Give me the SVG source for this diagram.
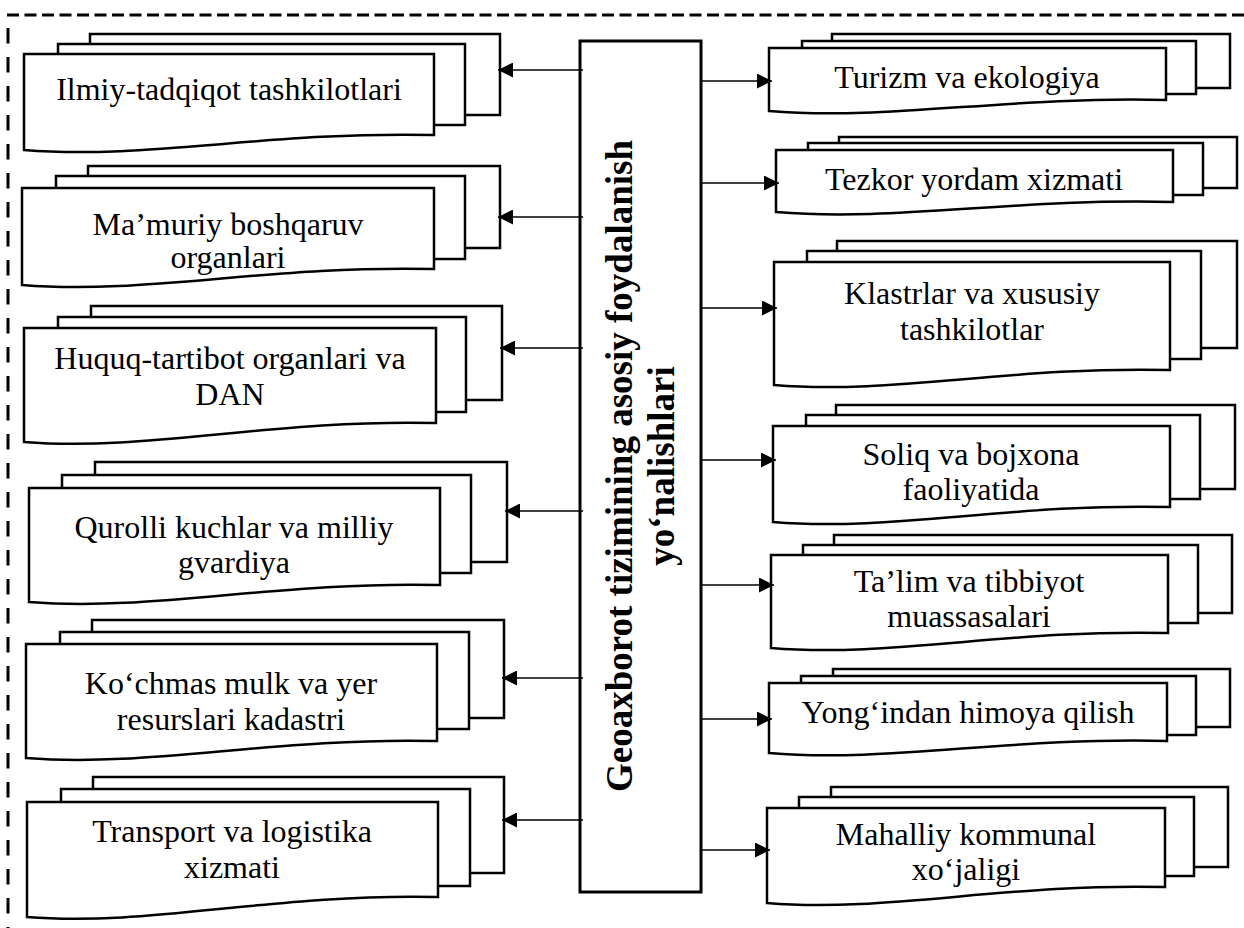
<svg xmlns="http://www.w3.org/2000/svg" width="1244" height="928" viewBox="0 0 1244 928">
<style>
.sh{fill:#fff;stroke:#000;stroke-width:2.5;stroke-linejoin:miter}
.t{font-family:"Liberation Serif","Times New Roman",serif;font-size:32px;text-anchor:middle;fill:#000}
.tb{font-family:"Liberation Serif","Times New Roman",serif;font-size:37px;font-weight:bold;text-anchor:middle;fill:#000}
.c{stroke:#000;stroke-width:1.5;fill:none}
.box{fill:#fff;stroke:#000;stroke-width:3}
</style>
<defs>
<marker id="ah" markerUnits="userSpaceOnUse" markerWidth="15" markerHeight="15" refX="15" refY="7.5" orient="auto" viewBox="0 0 15 15">
<path d="M0,0 L15,7.5 L0,15 Z" fill="#000"/>
</marker>
</defs>
<rect width="1244" height="928" fill="#fff"/>
<g id="border">
<line x1="7" y1="15" x2="1244" y2="15" stroke="#000" stroke-width="3" stroke-dasharray="12 5.5"/>
<line x1="8" y1="28" x2="8" y2="928" stroke="#000" stroke-width="3" stroke-dasharray="15.5 13.5"/>
</g>

<g id="center">
<rect class="box" x="580" y="41" width="121" height="851"/>
<g transform="translate(632,466) rotate(-90)">
<text class="tb" x="0" y="0">Geoaxborot tizimining asosiy foydalanish</text>
<text class="tb" x="0" y="42">yo‘nalishlari</text>
</g>
</g>

<g id="n-ilmiy">
<rect class="sh" x="90" y="34" width="410" height="81"/>
<rect class="sh" x="58" y="44" width="407" height="81"/>
<path class="sh" d="M24,150 L24,54 L434,54 L434,135 C270,131 147,160 24,150 Z"/>
<text class="t" x="229" y="100">Ilmiy-tadqiqot tashkilotlari</text>
</g>
<g id="n-mamuriy">
<rect class="sh" x="88" y="166" width="412" height="82"/>
<rect class="sh" x="56" y="176" width="409" height="83"/>
<path class="sh" d="M22,285 L22,188 L434,188 L434,269 C269,265 146,295 22,285 Z"/>
<text class="t" x="228" y="235">Ma’muriy boshqaruv</text>
<text class="t" x="228" y="268">organlari</text>
</g>
<g id="n-huquq">
<rect class="sh" x="91" y="306" width="411" height="94"/>
<rect class="sh" x="58" y="317" width="408" height="95"/>
<path class="sh" d="M24,442 L24,328 L436,328 L436,423 C271,419 148,452 24,442 Z"/>
<text class="t" x="230" y="369">Huquq-tartibot organlari va</text>
<text class="t" x="230" y="405">DAN</text>
</g>
<g id="n-qurolli">
<rect class="sh" x="95" y="462" width="412" height="100"/>
<rect class="sh" x="62" y="475" width="409" height="98"/>
<path class="sh" d="M29,602 L29,488 L440,488 L440,585 C276,581 152,612 29,602 Z"/>
<text class="t" x="234" y="538">Qurolli kuchlar va milliy</text>
<text class="t" x="234" y="573">gvardiya</text>
</g>
<g id="n-kochmas">
<rect class="sh" x="92" y="620" width="412" height="98"/>
<rect class="sh" x="60" y="632" width="409" height="97"/>
<path class="sh" d="M26,758 L26,644 L437,644 L437,741 C273,737 149,768 26,758 Z"/>
<text class="t" x="231" y="694">Ko‘chmas mulk va yer</text>
<text class="t" x="231" y="730">resurslari kadastri</text>
</g>
<g id="n-transport">
<rect class="sh" x="93" y="777" width="411" height="96"/>
<rect class="sh" x="61" y="789" width="409" height="97"/>
<path class="sh" d="M27,917 L27,802 L438,802 L438,897 C274,893 150,927 27,917 Z"/>
<text class="t" x="232" y="842">Transport va logistika</text>
<text class="t" x="232" y="878">xizmati</text>
</g>

<g id="n-turizm">
<rect class="sh" x="832" y="34" width="398" height="54"/>
<rect class="sh" x="802" y="41" width="394" height="53"/>
<path class="sh" d="M769,111 L769,48 L1166,48 L1166,100 C1007,96 888,121 769,111 Z"/>
<text class="t" x="967" y="88">Turizm va ekologiya</text>
</g>
<g id="n-tezkor">
<rect class="sh" x="839" y="137" width="398" height="51"/>
<rect class="sh" x="808" y="143" width="395" height="52"/>
<path class="sh" d="M776,212 L776,150 L1173,150 L1173,202 C1014,198 895,222 776,212 Z"/>
<text class="t" x="974" y="190">Tezkor yordam xizmati</text>
</g>
<g id="n-klastrlar">
<rect class="sh" x="837" y="241" width="400" height="107"/>
<rect class="sh" x="807" y="251" width="394" height="108"/>
<path class="sh" d="M774,385 L774,262 L1170,262 L1170,370 C1011,366 893,395 774,385 Z"/>
<text class="t" x="972" y="304">Klastrlar va xususiy</text>
<text class="t" x="972" y="340">tashkilotlar</text>
</g>
<g id="n-soliq">
<rect class="sh" x="836" y="405" width="399" height="84"/>
<rect class="sh" x="806" y="415" width="394" height="84"/>
<path class="sh" d="M773,522 L773,426 L1170,426 L1170,507 C1011,503 892,532 773,522 Z"/>
<text class="t" x="971" y="465">Soliq va bojxona</text>
<text class="t" x="971" y="500">faoliyatida</text>
</g>
<g id="n-talim">
<rect class="sh" x="834" y="535" width="398" height="78"/>
<rect class="sh" x="803" y="545" width="395" height="78"/>
<path class="sh" d="M771,648 L771,555 L1168,555 L1168,633 C1009,629 890,658 771,648 Z"/>
<text class="t" x="969" y="592">Ta’lim va tibbiyot</text>
<text class="t" x="969" y="627">muassasalari</text>
</g>
<g id="n-yongin">
<rect class="sh" x="833" y="669" width="397" height="58"/>
<rect class="sh" x="801" y="676" width="395" height="59"/>
<path class="sh" d="M769,753 L769,683 L1167,683 L1167,741 C1008,737 888,763 769,753 Z"/>
<text class="t" x="968" y="723">Yong‘indan himoya qilish</text>
</g>
<g id="n-mahalliy">
<rect class="sh" x="831" y="787" width="397" height="80"/>
<rect class="sh" x="799" y="797" width="395" height="79"/>
<path class="sh" d="M767,903 L767,808 L1165,808 L1165,887 C1006,883 886,913 767,903 Z"/>
<text class="t" x="966" y="845">Mahalliy kommunal</text>
<text class="t" x="966" y="880">xo‘jaligi</text>
</g>

<g id="connectors">
<line class="c" x1="583" y1="70" x2="498" y2="70" marker-end="url(#ah)"/>
<line class="c" x1="583" y1="217" x2="498" y2="217" marker-end="url(#ah)"/>
<line class="c" x1="583" y1="348" x2="500" y2="348" marker-end="url(#ah)"/>
<line class="c" x1="583" y1="511" x2="505" y2="511" marker-end="url(#ah)"/>
<line class="c" x1="583" y1="678" x2="502" y2="678" marker-end="url(#ah)"/>
<line class="c" x1="583" y1="820" x2="502" y2="820" marker-end="url(#ah)"/>
<line class="c" x1="701" y1="81" x2="772" y2="81" marker-end="url(#ah)"/>
<line class="c" x1="701" y1="183" x2="779" y2="183" marker-end="url(#ah)"/>
<line class="c" x1="701" y1="308" x2="777" y2="308" marker-end="url(#ah)"/>
<line class="c" x1="701" y1="460" x2="776" y2="460" marker-end="url(#ah)"/>
<line class="c" x1="701" y1="585" x2="774" y2="585" marker-end="url(#ah)"/>
<line class="c" x1="701" y1="719" x2="772" y2="719" marker-end="url(#ah)"/>
<line class="c" x1="701" y1="850" x2="770" y2="850" marker-end="url(#ah)"/>
</g>
</svg>
